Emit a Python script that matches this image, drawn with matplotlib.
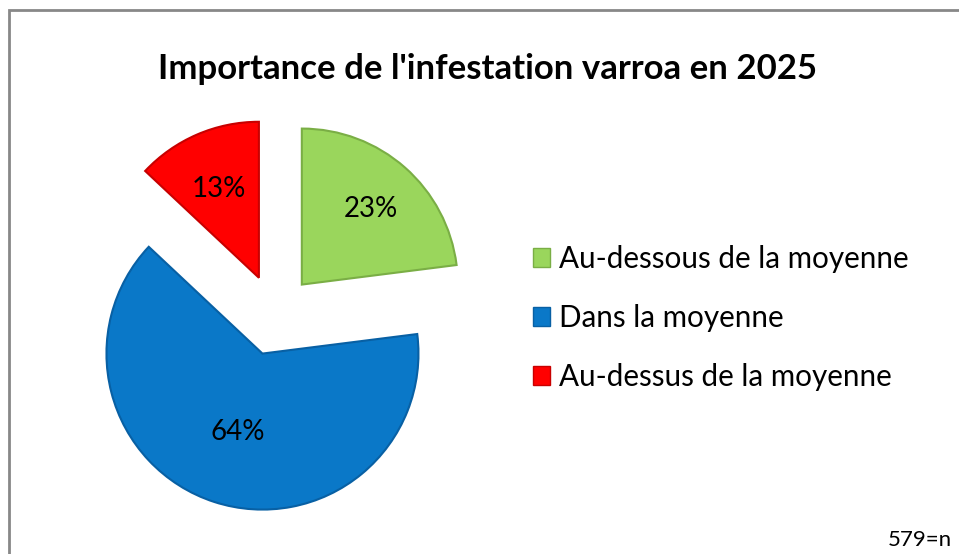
import numpy as np
import matplotlib.pyplot as plt
from matplotlib.patches import Patch, Rectangle

# Data
categories = ['Au-dessous de la moyenne', 'Dans la moyenne', 'Au-dessus de la moyenne']
shares = [23, 64, 13]
colors = ['#9AD65C', '#0A78C8', '#FF0000']
edge_colors = ['#7AAE45', '#0860A4', '#C80000']
title = "Importance de l'infestation varroa en 2025"
sample_note = '579=n'

plt.rcParams['font.family'] = ['Lato', 'DejaVu Sans']

fig = plt.figure(figsize=(9.59, 5.54), dpi=100)
ax = fig.add_axes([0, 0, 1, 1])

# Pie drawn in pixel coordinates
radius = 156
wedges, texts, autotexts = ax.pie(
    shares,
    colors=colors,
    startangle=90,
    counterclock=False,
    explode=[0.26 * radius] * 3,
    radius=radius,
    center=(275, 554 - 315),
    autopct='%1.0f%%',
    pctdistance=0.65,
    textprops={'fontsize': 20, 'color': 'black'},
    wedgeprops={'linewidth': 1.5},
)
for w, ec in zip(wedges, edge_colors):
    w.set_edgecolor(ec)

# label placement a bit like Excel's best fit
label_pos = [0.67, 0.51, 0.64]
for w, t, f in zip(wedges, autotexts, label_pos):
    ang = np.deg2rad((w.theta1 + w.theta2) / 2)
    cx, cy = w.center
    t.set_position((cx + f * w.r * np.cos(ang), cy + f * w.r * np.sin(ang)))
    t.set_va('center_baseline')

ax.set_xlim(0, 959)
ax.set_ylim(0, 554)
ax.axis('off')

# chart border
fig.patches.append(Rectangle((9 / 959, -0.1), 1.2, (554 - 10) / 554 + 0.1,
                             transform=fig.transFigure, fill=False,
                             edgecolor='#888888', linewidth=2))

fig.text(487 / 959, 1 - 69 / 554, title, ha='center', va='center',
         fontsize=25, fontweight='bold')

handles = [Patch(facecolor=c, edgecolor=e) for c, e in zip(colors, edge_colors)]
fig.legend(handles, categories, loc='center left',
           bbox_to_anchor=(506 / 959, 1 - 318 / 554), frameon=False,
           fontsize=21.3, handlelength=0.6, handleheight=0.6,
           handletextpad=0.3, labelspacing=1.05)

fig.text(952 / 959, 1 - 540 / 554, sample_note, ha='right', va='center',
         fontsize=16)

fig.savefig('out.png', dpi=100)
